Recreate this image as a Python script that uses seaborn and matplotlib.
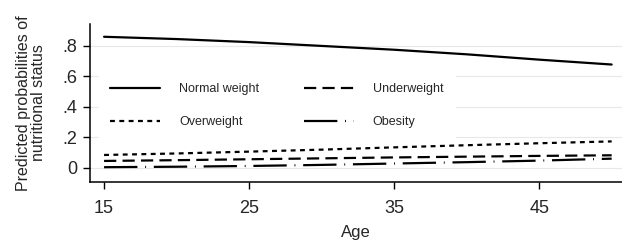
import matplotlib
matplotlib.use("Agg")
import matplotlib.pyplot as plt
import pandas as pd
import seaborn as sns

ages = [15, 20, 25, 30, 35, 40, 45, 50]
normal_weight = [0.860, 0.845, 0.825, 0.800, 0.775, 0.745, 0.710, 0.678]
underweight = [0.046, 0.051, 0.057, 0.063, 0.069, 0.074, 0.079, 0.083]
overweight = [0.085, 0.095, 0.107, 0.120, 0.135, 0.149, 0.162, 0.174]
obesity = [0.005, 0.008, 0.013, 0.020, 0.029, 0.038, 0.048, 0.061]

status_order = ["Normal weight", "Underweight", "Overweight", "Obesity"]
y_ticks = [0, 0.2, 0.4, 0.6, 0.8]
y_tick_labels = ["0", ".2", ".4", ".6", ".8"]
x_ticks = [15, 25, 35, 45]

frames = []
for name, values in zip(status_order, [normal_weight, underweight, overweight, obesity]):
    frames.append(pd.DataFrame({"Age": ages, "prob": values, "status": name}))
df = pd.concat(frames, ignore_index=True)

sns.set_theme(style="white")
plt.rcParams["font.family"] = ["Liberation Sans", "DejaVu Sans"]

fig = plt.figure(figsize=(6.22, 2.42), dpi=100)
ax = fig.add_axes([0.1447, 0.248, 0.855, 0.653])

dashes = {
    "Normal weight": "",
    "Underweight": (5.5, 2.8),
    "Overweight": (2.2, 2.0),
    "Obesity": (15, 3.5, 0.4, 3.5),
}
sns.lineplot(data=df, x="Age", y="prob", style="status", style_order=status_order,
             dashes=dashes, color="black", linewidth=1.6, ax=ax, legend=True)

ax.set_xlim(14.03, 50.7)
ax.set_ylim(-0.092, 0.944)
ax.set_xticks(x_ticks)
ax.set_yticks(y_ticks)
ax.set_yticklabels(y_tick_labels)
ax.yaxis.grid(True, color="#e8e8e8", linewidth=0.8)
ax.set_axisbelow(True)

for side in ["top", "right"]:
    ax.spines[side].set_visible(False)
for side in ["left", "bottom"]:
    ax.spines[side].set_color("black")
    ax.spines[side].set_linewidth(1.1)
ax.tick_params(axis="both", which="major", direction="out", length=5, width=1.0,
               color="black", labelsize=13, left=True, bottom=True)
ax.tick_params(axis="y", pad=4)
ax.tick_params(axis="x", pad=8)

ax.set_xlabel("Age", fontsize=12, labelpad=6)
ax.set_ylabel("Predicted probabilities of\nnutritional status", fontsize=11.5,
              linespacing=1.0, labelpad=12)

handles, labels = ax.get_legend_handles_labels()
lookup = dict(zip(labels, handles))
order = ["Normal weight", "Overweight", "Underweight", "Obesity"]
leg = ax.legend([lookup[k] for k in order], order, ncol=2, loc="upper left",
                bbox_to_anchor=(0.005, 0.735), fontsize=9, frameon=True,
                handlelength=4.0, handletextpad=1.5, columnspacing=3.6,
                labelspacing=1.65, borderpad=0.9, fancybox=False)
leg.get_frame().set_facecolor("white")
leg.get_frame().set_edgecolor("white")
leg.get_frame().set_alpha(1.0)

fig.savefig("out.png", dpi=100)
